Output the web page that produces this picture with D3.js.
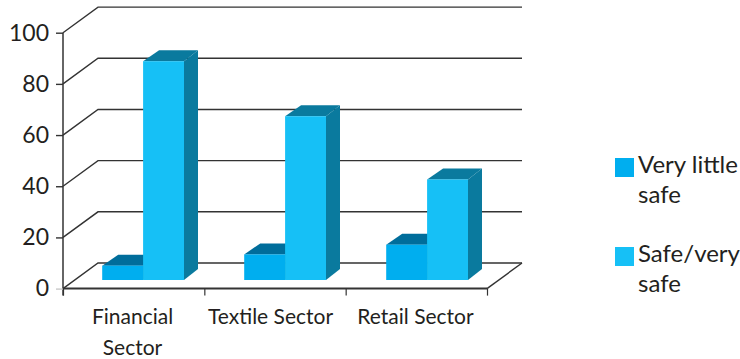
<!DOCTYPE html>
<html>
<head>
<meta charset="utf-8">
<script src="https://cdn.jsdelivr.net/npm/d3@7"></script>
<style>
html, body { margin: 0; padding: 0; background: #fff; }
svg { display: block; }
text { font-family: Lato, sans-serif; fill: #231f20; }
</style>
</head>
<body>
<svg id="chart" width="740" height="359"></svg>
<script>
const categories = [["Financial", "Sector"], ["Textile Sector"], ["Retail Sector"]];
const seriesNames = [["Very little", "safe"], ["Safe/very", "safe"]];
const veryLittleSafe = [5.6, 10, 13.8];
const safeVerySafe = [85.5, 64, 39.3];
const yTicks = [0, 20, 40, 60, 80, 100];

const frontColors = ["#00aeef", "#16c0f6"];
const topColors = ["#006d9b", "#0a7a9e"];
const sideColor = "#0a7a9e";
const lineColor = "#333333";

const svg = d3.select("#chart");
const wallDx = 35, wallDy = -25.6;
const barDx = 14, barDy = -11;
const floorOffset = 8.6;

const y = d3.scaleLinear().domain([0, 100]).range([288.6, 32.7]);
const x = d3.scaleBand().domain(d3.range(categories.length)).range([63, 489]);
const inner = d3.scaleBand().domain([0, 1]).range([39.2, 121]);

// Back wall gridlines with their slanted returns to the value axis
const grid = svg.append("g").attr("fill", "none").attr("stroke", lineColor).attr("stroke-width", 1.4);
grid.selectAll("path").data(yTicks).join("path")
  .attr("d", t => {
    const p = d3.path();
    p.moveTo(63, y(t));
    p.lineTo(63 + wallDx, y(t) + wallDy);
    p.lineTo(487 + wallDx, y(t) + wallDy);
    return p.toString();
  });

// Right edge of the floor
svg.append("line")
  .attr("x1", 487).attr("y1", y(0))
  .attr("x2", 487 + wallDx).attr("y2", y(0) + wallDy)
  .attr("stroke", lineColor).attr("stroke-width", 1.4);

// Three-faced columns: top and side are offset from the front rectangle
function drawColumn(g, x0, w, value, s) {
  const base = y(0) - floorOffset;
  const h = y(0) - y(value);
  const top = base - h;
  g.append("polygon")
    .attr("points", [[x0, top], [x0 + barDx + 2, top + barDy], [x0 + w + barDx, top + barDy], [x0 + w, top]].join(" "))
    .attr("fill", topColors[s]);
  g.append("polygon")
    .attr("points", [[x0 + w, top], [x0 + w + barDx, top + barDy], [x0 + w + barDx, base + barDy], [x0 + w, base]].join(" "))
    .attr("fill", sideColor);
  g.append("rect")
    .attr("x", x0).attr("y", top)
    .attr("width", w).attr("height", h)
    .attr("fill", frontColors[s]);
}

const bars = svg.append("g");
categories.forEach((c, i) => {
  [veryLittleSafe, safeVerySafe].forEach((vals, s) => {
    drawColumn(bars, x(i) + inner(s), inner.bandwidth(), vals[i], s);
  });
});

// Value axis
const yAxis = svg.append("g")
  .attr("transform", "translate(63,0)")
  .call(d3.axisLeft(y).tickValues(yTicks).tickSize(7).tickPadding(7));
yAxis.selectAll("path").attr("d", `M0,${y(100)}V${y(0) + 7}`).attr("stroke", lineColor).attr("stroke-width", 1.5);
yAxis.selectAll("line").attr("stroke", lineColor).attr("stroke-width", 1.4);
yAxis.selectAll("g.tick").filter(d => d === 0).select("line").attr("stroke", "#c8c8c8");
yAxis.selectAll("text").attr("font-size", 23).attr("fill", "#231f20")
  .style("font-family", "Lato, sans-serif");

// Category axis with ticks on the band edges
const edgeScale = d3.scaleLinear().domain([0, categories.length]).range([63, 487]);
const xAxis = svg.append("g")
  .attr("transform", `translate(0,${y(0)})`)
  .call(d3.axisBottom(edgeScale).tickValues(d3.range(categories.length + 1)).tickSize(7).tickFormat(""));
xAxis.select("path").attr("d", "M63,0H487").attr("stroke", lineColor).attr("stroke-width", 2);
xAxis.selectAll("line").attr("stroke", lineColor).attr("stroke-width", 1.2);

// Category labels, wrapped over one or two lines
const labelCentres = [132.5, 270.5, 415.5];
const labels = svg.append("g").attr("text-anchor", "middle").attr("font-size", 21);
categories.forEach((lines, i) => {
  lines.forEach((line, k) => {
    labels.append("text").attr("x", labelCentres[i]).attr("y", 323.5 + k * 31).text(line);
  });
});

// Legend
const legend = svg.append("g");
const legendTop = [158, 247];
seriesNames.forEach((lines, s) => {
  legend.append("rect")
    .attr("x", 615).attr("y", legendTop[s])
    .attr("width", 19).attr("height", 19)
    .attr("fill", frontColors[s]);
  lines.forEach((line, k) => {
    legend.append("text")
      .attr("x", 638).attr("y", legendTop[s] + 14.5 + k * 30)
      .attr("font-size", 24).text(line);
  });
});
</script>
</body>
</html>
